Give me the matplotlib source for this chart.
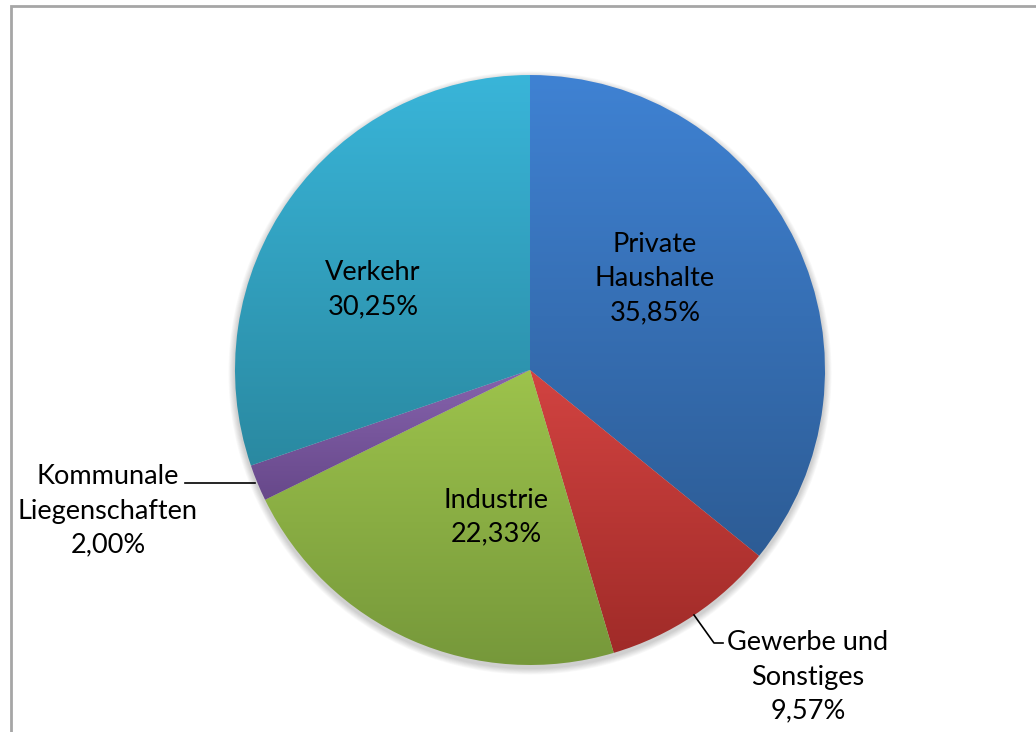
import numpy as np
import matplotlib
matplotlib.use("Agg")
import matplotlib.pyplot as plt
from matplotlib.colors import LinearSegmentedColormap
from matplotlib.patches import Rectangle, Circle

# data
labels = ["Private\nHaushalte", "Gewerbe und\nSonstiges", "Industrie",
          "Kommunale\nLiegenschaften", "Verkehr"]
shares = [35.85, 9.57, 22.33, 2.00, 30.25]
pct_text = ["35,85%", "9,57%", "22,33%", "2,00%", "30,25%"]

# light (top) / dark (bottom) colour per slice
top_colors = ["#3f82d3", "#d24341", "#9dc34c", "#8663ad", "#39b5d9"]
bottom_colors = ["#2d5c95", "#a02b28", "#75973a", "#67488a", "#2a89a1"]

plt.rcParams['font.family'] = ['Lato', 'DejaVu Sans']

W, H = 1036, 732
fig = plt.figure(figsize=(W / 100, H / 100), dpi=100)
ax = fig.add_axes([0, 0, 1, 1])

# chart frame (cut at right/bottom like the screenshot)
ax.add_patch(Rectangle((11, -20), W + 50, H - 6 + 20, fill=False,
                       edgecolor="#a6a6a6", lw=2))

cx, cy, r = 530, H - 370, 295

# soft shadow under the pie
for i in range(8):
    ax.add_patch(Circle((cx, cy - 3), r + 1 + i * 0.8, color="#000000",
                        alpha=0.025, lw=0, zorder=1))

wedges, _ = ax.pie(shares, center=(cx, cy), radius=r, startangle=90,
                   counterclock=False, frame=True,
                   wedgeprops=dict(lw=0))

grad = np.linspace(0, 1, 256).reshape(-1, 1)
for w, c1, c2 in zip(wedges, top_colors, bottom_colors):
    verts = w.get_patch_transform().transform(w.get_path().vertices)
    x0, x1 = verts[:, 0].min(), verts[:, 0].max()
    y0, y1 = verts[:, 1].min(), verts[:, 1].max()
    cmap = LinearSegmentedColormap.from_list("g", [c2, c1])
    w.set_facecolor("none")
    w.set_zorder(2)
    im = ax.imshow(grad, cmap=cmap, extent=(x0, x1, y0, y1), origin='lower',
                   aspect='auto', zorder=2, interpolation='bilinear')
    im.set_clip_path(w)

ax.set_xlim(0, W)
ax.set_ylim(0, H)
ax.set_aspect('equal')
ax.axis('off')

fs = 19.5
ls = 1.45
# inside labels
ax.text(655, H - 279, labels[0] + "\n" + pct_text[0], ha='center', va='center',
        fontsize=fs, linespacing=ls, zorder=5)
ax.text(373, H - 290, labels[4] + "\n" + pct_text[4], ha='center', va='center',
        fontsize=fs, linespacing=ls, zorder=5)
ax.text(496, H - 517, labels[2] + "\n" + pct_text[2], ha='center', va='center',
        fontsize=fs, linespacing=ls, zorder=5)

# outside labels with leader lines
ax.text(108, H - 511, labels[3] + "\n" + pct_text[3], ha='center', va='center',
        fontsize=fs, linespacing=ls, zorder=5)
ax.plot([185, 255], [H - 483, H - 483], color="black", lw=1.2, zorder=5)

ax.text(808, H - 677, labels[1] + "\n" + pct_text[1], ha='center', va='center',
        fontsize=fs, linespacing=ls, zorder=5)
ax.plot([694, 714, 723], [H - 615, H - 643, H - 643], color="black", lw=1.2,
        zorder=5)

fig.savefig("out.png", dpi=100)
